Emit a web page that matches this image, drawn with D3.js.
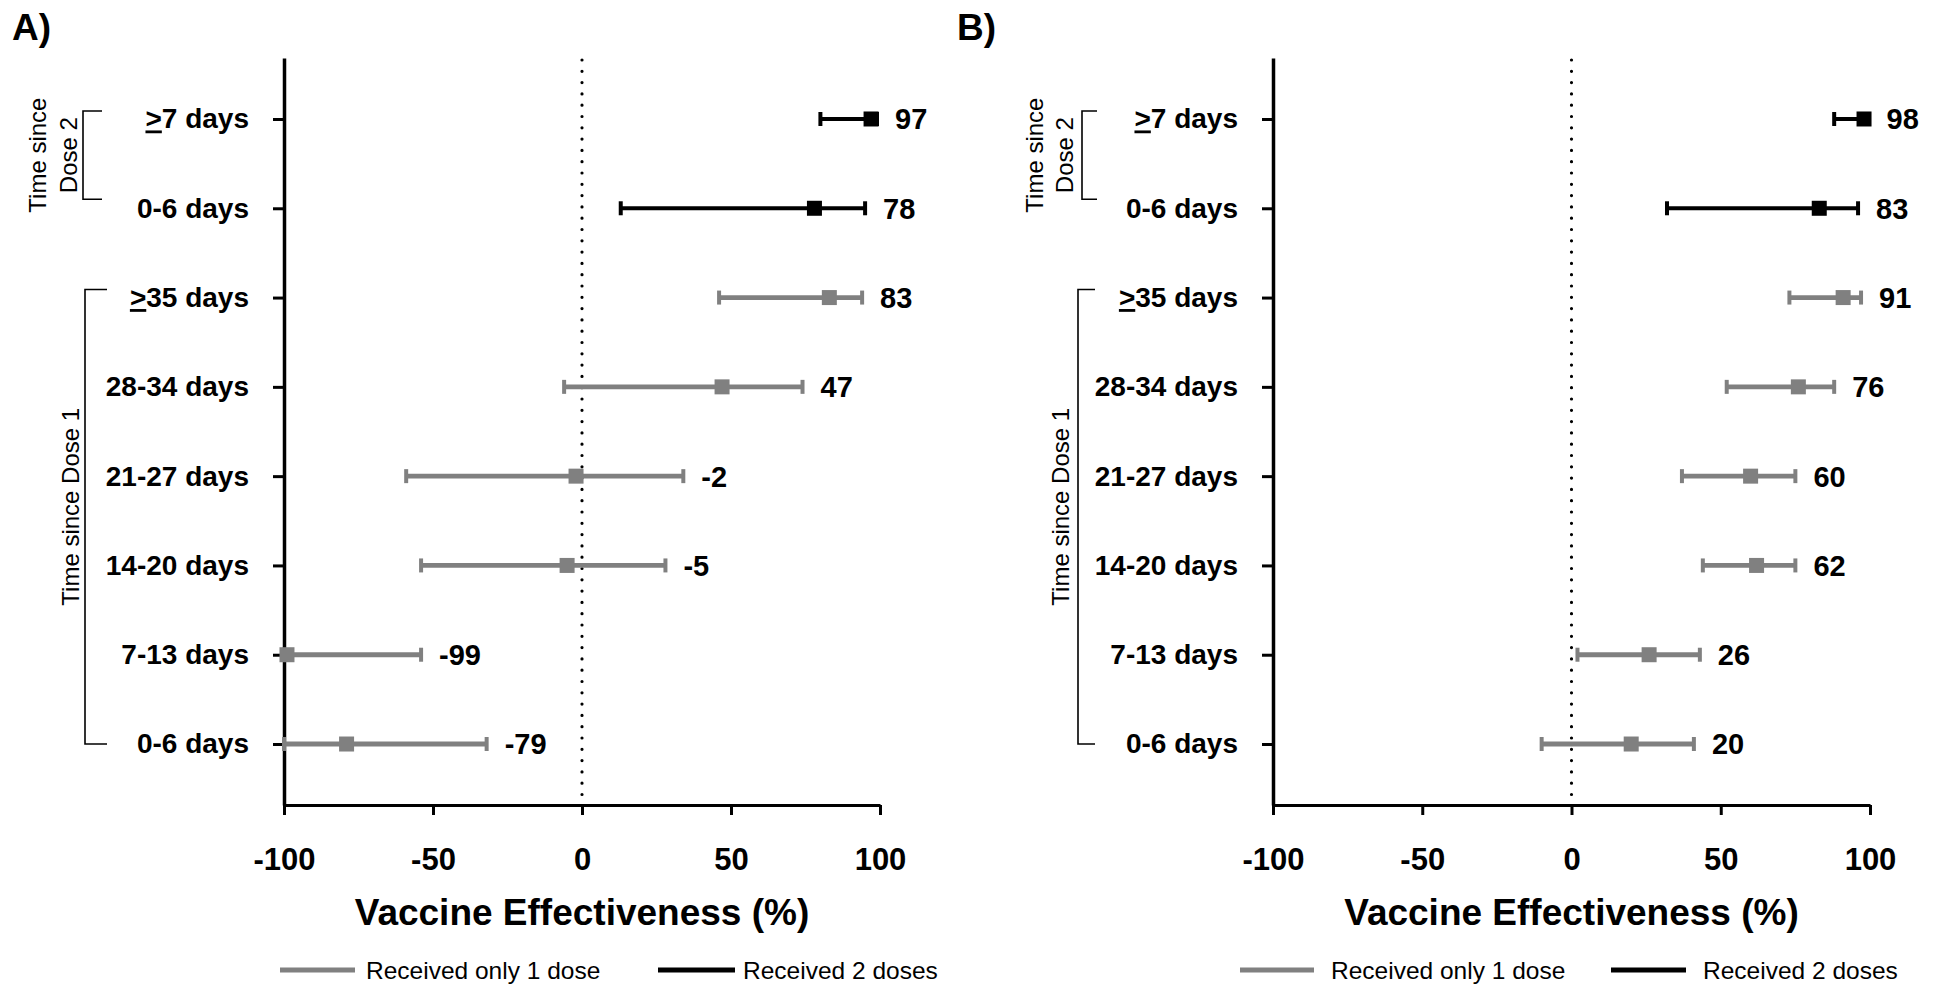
<!DOCTYPE html>
<html>
<head>
<meta charset="utf-8">
<script src="https://cdn.jsdelivr.net/npm/d3@7"></script>
<style>
body { margin: 0; background: #fff; }
text { font-family: "Liberation Sans", Arial, sans-serif; fill: #000; }
</style>
</head>
<body>
<script>
//Categories, top to bottom (same for both panels)
var categories = ["≥7 days", "0-6 days", "≥35 days", "28-34 days", "21-27 days", "14-20 days", "7-13 days", "0-6 days"];
var doses      = [2, 2, 1, 1, 1, 1, 1, 1];
var xTicks     = [-100, -50, 0, 50, 100];

//Panel A: vaccine effectiveness and 95% CI
var veA  = [97, 78, 83, 47, -2, -5, -99, -79];
var lowA = [80, 13, 46, -6, -59, -54, -100, -100];
var upA  = [99, 95, 94, 74, 34, 28, -54, -32];

//Panel B
var veB  = [98, 83, 91, 76, 60, 62, 26, 20];
var lowB = [88, 32, 73, 52, 37, 44, 2, -10];
var upB  = [99.5, 96, 97, 88, 75, 75, 43, 41];

var legendLabels = ["Received only 1 dose", "Received 2 doses"];
var xTitle = "Vaccine Effectiveness (%)";

//Layout
var width = 1933, height = 986;
var yTop = 58, yBottom = 805;
var grey = "#808080";
var colors = {1: grey, 2: "#000"};

var panels = [
    {letter: "A)", letterX: 12, x0: 284, x1: 880, ve: veA, low: lowA, up: upA,
     b2: {x: 83, arm: 102, t1: 46, t2: 77}, b1: {x: 85, arm: 107, t: 79},
     leg: [280, 355, 366, 658, 735, 743]},
    {letter: "B)", letterX: 957, x0: 1273, x1: 1870, ve: veB, low: lowB, up: upB,
     b2: {x: 1082, arm: 1097, t1: 1043, t2: 1073}, b1: {x: 1078, arm: 1095, t: 1069},
     leg: [1240, 1314, 1331, 1611, 1686, 1703]}
];

var svg = d3.select("body").append("svg")
    .attr("width", width)
    .attr("height", height);

var y = d3.scalePoint()
    .domain(d3.range(categories.length))
    .range([yTop, yBottom])
    .padding(0.683);

panels.forEach(function(p)
{
    var x = d3.scaleLinear().domain([-100, 100]).range([p.x0, p.x1]);

    //Panel letter
    svg.append("text")
        .attr("x", p.letterX)
        .attr("y", 40)
        .attr("font-size", 37)
        .attr("font-weight", "bold")
        .text(p.letter);

    //Dotted line at zero
    svg.append("line")
        .attr("x1", x(0)).attr("x2", x(0))
        .attr("y1", yTop + 2).attr("y2", yBottom)
        .attr("stroke", "#000")
        .attr("stroke-width", 3.2)
        .attr("stroke-linecap", "round")
        .attr("stroke-dasharray", "0,11.3");

    //Y axis
    var axisY = svg.append("g")
        .attr("transform", "translate(" + p.x0 + ",0)")
        .call(d3.axisLeft(y)
            .tickSize(11)
            .tickSizeOuter(0)
            .tickPadding(24)
            .tickFormat(function(i) { return categories[i]; }));

    axisY.select(".domain").attr("stroke", "#000").attr("stroke-width", 3.5);
    axisY.selectAll(".tick line").attr("stroke", "#000").attr("stroke-width", 3);
    axisY.selectAll(".tick text")
        .attr("font-size", 28)
        .attr("font-weight", "bold")
        .attr("font-family", "'Liberation Sans', Arial, sans-serif")
        .attr("fill", "#000")
        .each(function(i)
        {
            var label = categories[i];
            if (label.charAt(0) == "≥")
            {
                var t = d3.select(this).text(null);
                t.append("tspan").style("text-decoration", "underline").text(">");
                t.append("tspan").text(label.slice(1));
            }
        });

    //X axis
    var axisX = svg.append("g")
        .attr("transform", "translate(0," + yBottom + ")")
        .call(d3.axisBottom(x)
            .tickValues(xTicks)
            .tickSize(10)
            .tickSizeOuter(0)
            .tickPadding(33)
            .tickFormat(function(d) { return String(d); }));

    axisX.select(".domain").attr("stroke", "#000").attr("stroke-width", 3);
    axisX.selectAll(".tick line").attr("stroke", "#000").attr("stroke-width", 3);
    axisX.selectAll(".tick text")
        .attr("font-size", 31)
        .attr("font-weight", "bold")
        .attr("font-family", "'Liberation Sans', Arial, sans-serif")
        .attr("fill", "#000");

    //Axis title
    svg.append("text")
        .attr("x", (p.x0 + p.x1) / 2)
        .attr("y", 925)
        .attr("text-anchor", "middle")
        .attr("font-size", 37)
        .attr("font-weight", "bold")
        .text(xTitle);

    //Error bars
    var rows = d3.range(categories.length);
    var g = svg.append("g");

    g.selectAll(".ci").data(rows).join("line")
        .attr("x1", function(i) { return x(p.low[i]); })
        .attr("x2", function(i) { return x(p.up[i]); })
        .attr("y1", function(i) { return y(i); })
        .attr("y2", function(i) { return y(i); })
        .attr("stroke", function(i) { return colors[doses[i]]; })
        .attr("stroke-width", function(i) { return doses[i] == 2 ? 4 : 4.8; });

    ["low", "up"].forEach(function(k)
    {
        g.selectAll(".cap-" + k).data(rows).join("line")
            .attr("x1", function(i) { return x(p[k][i]); })
            .attr("x2", function(i) { return x(p[k][i]); })
            .attr("y1", function(i) { return y(i) - 7; })
            .attr("y2", function(i) { return y(i) + 7; })
            .attr("stroke", function(i) { return colors[doses[i]]; })
            .attr("stroke-width", 4);
    });

    //Point estimates
    g.selectAll(".pt").data(rows).join("rect")
        .attr("x", function(i) { return x(p.ve[i]) - 7.5; })
        .attr("y", function(i) { return y(i) - 7.5; })
        .attr("width", 15)
        .attr("height", 15)
        .attr("fill", function(i) { return colors[doses[i]]; });

    //Value labels
    g.selectAll(".val").data(rows).join("text")
        .attr("x", function(i) { return x(p.up[i]) + 18; })
        .attr("y", function(i) { return y(i); })
        .attr("dy", "0.36em")
        .attr("font-size", 29)
        .attr("font-weight", "bold")
        .text(function(i) { return String(p.ve[i]); });

    //Brackets: time since dose 2 and dose 1
    var b2top = y(0) - 8, b2bot = y(1) - 9;
    svg.append("path")
        .attr("d", "M" + p.b2.arm + "," + b2top + "H" + p.b2.x + "V" + b2bot + "H" + p.b2.arm)
        .attr("fill", "none").attr("stroke", "#000").attr("stroke-width", 1.6);

    var b2mid = (b2top + b2bot) / 2;
    [["Time since", p.b2.t1], ["Dose 2", p.b2.t2]].forEach(function(d)
    {
        svg.append("text")
            .attr("transform", "translate(" + d[1] + "," + b2mid + ") rotate(-90)")
            .attr("text-anchor", "middle")
            .attr("font-size", 24)
            .text(d[0]);
    });

    var b1top = y(2) - 8, b1bot = y(7);
    svg.append("path")
        .attr("d", "M" + p.b1.arm + "," + b1top + "H" + p.b1.x + "V" + b1bot + "H" + p.b1.arm)
        .attr("fill", "none").attr("stroke", "#000").attr("stroke-width", 1.6);

    svg.append("text")
        .attr("transform", "translate(" + p.b1.t + "," + ((b1top + b1bot) / 2 - 10) + ") rotate(-90)")
        .attr("text-anchor", "middle")
        .attr("font-size", 24)
        .text("Time since Dose 1");

    //Legend
    var legColors = [grey, "#000"];
    for (var k = 0; k < 2; k++)
    {
        svg.append("line")
            .attr("x1", p.leg[k * 3]).attr("x2", p.leg[k * 3 + 1])
            .attr("y1", 970).attr("y2", 970)
            .attr("stroke", legColors[k])
            .attr("stroke-width", 5);

        svg.append("text")
            .attr("x", p.leg[k * 3 + 2])
            .attr("y", 979)
            .attr("font-size", 24.5)
            .attr("fill", "#222")
            .text(legendLabels[k]);
    }
});
</script>
</body>
</html>
